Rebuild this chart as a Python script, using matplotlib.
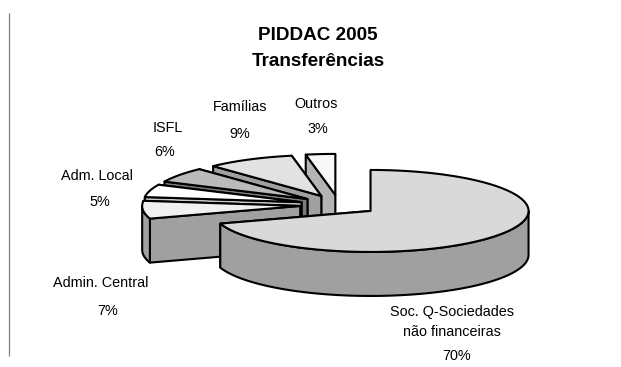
import numpy as np
import matplotlib
matplotlib.use("Agg")
import matplotlib.pyplot as plt
from matplotlib.patches import Polygon

plt.rcParams['font.family'] = ['Liberation Sans', 'DejaVu Sans']

categories = ["Soc. Q-Sociedades\nnão financeiras", "Admin. Central", "Adm. Local", "ISFL", "Famílias", "Outros"]
values = [70, 7, 5, 6, 9, 3]

top_colors = ["#d9d9d9", "#f0f0f0", "#ffffff", "#bbbbbb", "#e2e2e2", "#f8f8f8"]
side_colors = ["#a0a0a0", "#a0a0a0", "#c8c8c8", "#7c7c7c", "#a0a0a0", "#b4b4b4"]

# label centres in pixels: name, percent
name_pos = [(452, 322), (101, 283), (97, 176), (168, 128), (240, 107), (316, 104)]
pct_pos = [(457, 356), (108, 311), (100, 202), (165, 152), (240, 134), (318, 129)]

# pie geometry in pixels
cx, cy = 339, 205
rx, ry = 158, 41
explode = 39
depth = 44
lw = 1.5


def point(ox, oy, deg):
    t = np.radians(deg)
    return ox + rx * np.sin(t), oy - ry * np.cos(t)


def arc(ox, oy, a, b):
    angles = np.linspace(a, b, max(int(abs(b - a)) * 2, 2))
    return [point(ox, oy, d) for d in angles]


def shifted(pts):
    return [(x, y + depth) for x, y in pts]


fig = plt.figure(figsize=(6.21, 3.67), dpi=100)
ax = fig.add_axes([0, 0, 1, 1])
ax.set_xlim(0, 621)
ax.set_ylim(367, 0)
ax.axis("off")

ax.plot([9, 9], [13, 356], color="#808080", lw=0.9, solid_capstyle="butt")

edges = 360 * np.cumsum([0] + values) / sum(values)

# back slices first, the big one goes last
for i in reversed(range(len(values))):
    a, b = edges[i], edges[i + 1]
    mid = np.radians((a + b) / 2)
    ox = cx + explode * np.sin(mid)
    oy = cy - explode * ry / rx * np.cos(mid)
    apex = (ox, oy)

    for d in (b, a):
        p = point(ox, oy, d)
        face = [apex, p, (p[0], p[1] + depth), (ox, oy + depth)]
        ax.add_patch(Polygon(face, closed=True, fc=side_colors[i], ec="k", lw=lw, joinstyle="round"))

    lo, hi = max(a, 90), min(b, 270)
    if hi > lo:
        wall = arc(ox, oy, lo, hi)
        ax.add_patch(Polygon(wall + shifted(wall)[::-1], closed=True, fc=side_colors[i], ec="k", lw=lw, joinstyle="round"))

    top = [apex] + arc(ox, oy, a, b)
    ax.add_patch(Polygon(top, closed=True, fc=top_colors[i], ec="k", lw=lw, joinstyle="round"))

for i, name in enumerate(categories):
    ax.text(name_pos[i][0], name_pos[i][1], name, ha="center", va="center", fontsize=10.4, linespacing=1.62)
    ax.text(pct_pos[i][0], pct_pos[i][1], "%d%%" % values[i], ha="center", va="center", fontsize=10.4)

ax.text(318, 36, "PIDDAC 2005", ha="center", va="center", fontsize=13.6, fontweight="bold")
ax.text(318, 61, "Transferências", ha="center", va="center", fontsize=13.6, fontweight="bold")

fig.savefig("out.png", dpi=100)
